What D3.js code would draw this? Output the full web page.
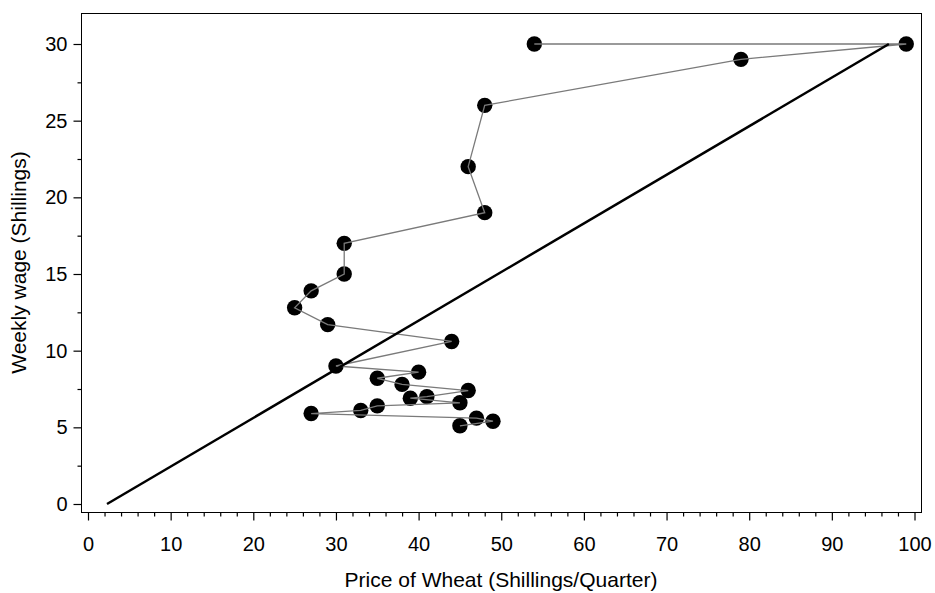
<!DOCTYPE html>
<html>
<head>
<meta charset="utf-8">
<script src="https://cdn.jsdelivr.net/npm/d3@7"></script>
<style>
  body { margin: 0; background: #fff; }
  svg text { font-family: "Liberation Sans", Arial, Helvetica, sans-serif; }
</style>
</head>
<body>
<div id="chart"></div>
<script>
// wheat price and weekly wage, in time order
var wheat = [45, 49, 47, 27, 33, 35, 45, 39, 41, 46, 38, 35, 40, 30, 44, 29, 25, 27, 31, 31, 48, 46, 48, 79, 99, 54];
var wages = [5.1, 5.4, 5.6, 5.9, 6.1, 6.4, 6.6, 6.9, 7.0, 7.4, 7.8, 8.2, 8.6, 9.0, 10.6, 11.7, 12.8, 13.9, 15, 17, 19, 22, 26, 29, 30, 30];

// the straight reference line (two end points)
var refWheat = [2.3, 96.9];
var refWage = [0, 30];

var xTicks = [0, 10, 20, 30, 40, 50, 60, 70, 80, 90, 100];
var yTicks = [0, 5, 10, 15, 20, 25, 30];

var svgWidth = 935;
var svgHeight = 593;

var frame = { left: 81, right: 921, top: 13, bottom: 512 };

var svg = d3.select("#chart")
    .append("svg")
    .attr("width", svgWidth)
    .attr("height", svgHeight);

var xScale = d3.scaleLinear().domain([0, 100]).range([88, 914.5]);
var yScale = d3.scaleLinear().domain([0, 30]).range([504, 44]);

var points = wheat.map(function(w, i) { return { x: w, y: wages[i] }; });

// frame
svg.append("rect")
    .attr("x", frame.left + 0.5)
    .attr("y", frame.top + 0.5)
    .attr("width", frame.right - frame.left)
    .attr("height", frame.bottom - frame.top)
    .attr("fill", "none")
    .attr("stroke", "#000")
    .attr("stroke-width", 1);

// x axis major + minor
var xAxis = svg.append("g")
    .attr("transform", `translate(0,${frame.bottom + 0.5})`)
    .call(d3.axisBottom(xScale).tickValues(xTicks).tickSize(8).tickPadding(16));

var xMinor = svg.append("g")
    .attr("transform", `translate(0,${frame.bottom + 0.5})`)
    .call(d3.axisBottom(xScale)
        .tickValues(d3.range(0, 101, 2).filter(function(v) { return v % 10 !== 0; }))
        .tickSize(4).tickFormat(""));

// y axis major + minor
var yAxis = svg.append("g")
    .attr("transform", `translate(${frame.left + 0.5},0)`)
    .call(d3.axisLeft(yScale).tickValues(yTicks).tickSize(8).tickPadding(6));

var yMinor = svg.append("g")
    .attr("transform", `translate(${frame.left + 0.5},0)`)
    .call(d3.axisLeft(yScale)
        .tickValues([2.5, 7.5, 12.5, 17.5, 22.5, 27.5])
        .tickSize(4).tickFormat(""));

svg.selectAll(".domain").remove();
svg.selectAll(".tick line").attr("stroke", "#000").attr("stroke-width", 1.2);
svg.selectAll(".tick text")
    .attr("font-size", "20px")
    .attr("fill", "#000")
    .style("font-family", "'Liberation Sans', Arial, sans-serif");

// markers
svg.append("g")
    .selectAll("circle")
    .data(points)
    .enter()
    .append("circle")
    .attr("cx", d => xScale(d.x))
    .attr("cy", d => yScale(d.y))
    .attr("r", 7.7)
    .attr("fill", "#000");

// connecting path
var line = d3.line()
    .x(d => xScale(d.x))
    .y(d => yScale(d.y));

svg.append("path")
    .datum(points)
    .attr("d", line)
    .attr("fill", "none")
    .attr("stroke", "#7a7a7a")
    .attr("stroke-width", 1.3);

// reference line
svg.append("path")
    .datum(refWheat.map(function(w, i) { return { x: w, y: refWage[i] }; }))
    .attr("d", line)
    .attr("fill", "none")
    .attr("stroke", "#000")
    .attr("stroke-width", 2.5);

// axis titles
svg.append("text")
    .attr("x", (frame.left + frame.right) / 2)
    .attr("y", 587)
    .attr("text-anchor", "middle")
    .attr("font-size", "21px")
    .text("Price of Wheat (Shillings/Quarter)");

svg.append("text")
    .attr("transform", `translate(26,${(frame.top + frame.bottom) / 2})rotate(-90)`)
    .attr("text-anchor", "middle")
    .attr("font-size", "21px")
    .text("Weekly wage (Shillings)");
</script>
</body>
</html>
